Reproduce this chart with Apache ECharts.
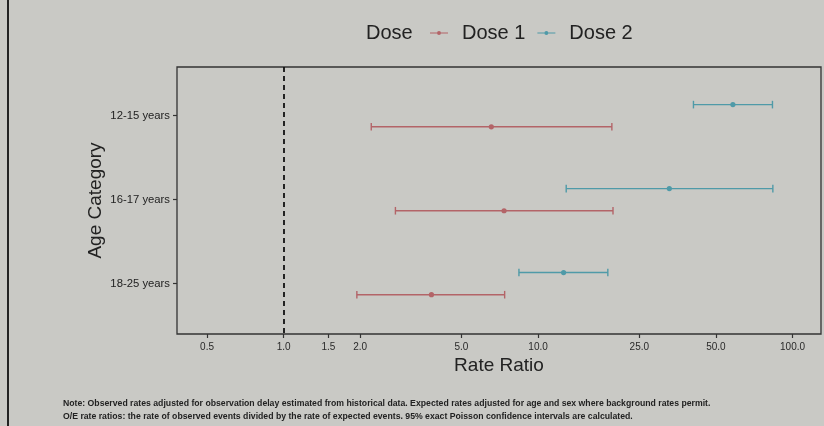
<!DOCTYPE html>
<html>
<head>
<meta charset="utf-8">
<script src="https://cdn.jsdelivr.net/npm/echarts@6/dist/echarts.min.js"></script>
<style>
html,body{margin:0;padding:0;background:#c9c9c5;}
#chart{width:824px;height:426px;}
</style>
</head>
<body>
<div id="chart"></div>
<script>
// ---- data ----
const categories = ['12-15 years', '16-17 years', '18-25 years'];
const dose1Est  = [6.55, 7.35, 3.81];
const dose1Low  = [2.21, 2.75, 1.94];
const dose1High = [19.5, 19.7, 7.39];
const dose2Est  = [58.3, 32.8, 12.6];
const dose2Low  = [40.8, 12.9, 8.41];
const dose2High = [83.4, 83.7, 18.8];
const xTickValues = [0.5, 1.0, 1.5, 2.0, 5.0, 10.0, 25.0, 50.0, 100.0];
const refValue = 1.0;
const noteLines = [
  'Note: Observed rates adjusted for observation delay estimated from historical data. Expected rates adjusted for age and sex where background rates permit.',
  'O/E rate ratios: the rate of observed events divided by the rate of expected events. 95% exact Poisson confidence intervals are calculated.'
];

const lg = v => Math.log10(v);
function build(est, low, high) {
  return categories.map((c, i) => [lg(low[i]), lg(est[i]), lg(high[i]), i]);
}
function makeRender(offset) {
  return function (params, api) {
    const y = api.value(3) + offset;
    const a = api.coord([api.value(0), y]);
    const m = api.coord([api.value(1), y]);
    const b = api.coord([api.value(2), y]);
    const color = api.visual('color');
    const cap = 3.8;
    const st = { stroke: color, lineWidth: 1.4 };
    return {
      type: 'group',
      children: [
        { type: 'line', shape: { x1: a[0], y1: a[1], x2: b[0], y2: b[1] }, style: st },
        { type: 'line', shape: { x1: a[0], y1: a[1] - cap, x2: a[0], y2: a[1] + cap }, style: st },
        { type: 'line', shape: { x1: b[0], y1: b[1] - cap, x2: b[0], y2: b[1] + cap }, style: st },
        { type: 'circle', shape: { cx: m[0], cy: m[1], r: 2.6 }, style: { fill: color } }
      ]
    };
  };
}

const FONT = '"Liberation Sans", Arial, sans-serif';
const legendIcon = 'path://M0,4.4H18V5.6H0Z M11,5A2,2 0 1,1 7,5A2,2 0 1,1 11,5Z';

const chart = echarts.init(document.getElementById('chart'), null, { renderer: 'canvas' });
chart.setOption({
  backgroundColor: '#c9c9c5',
  animation: false,
  textStyle: { fontFamily: FONT },
  title: {
    text: 'Dose', left: 366, top: 23, padding: 0,
    textStyle: { fontSize: 20, fontWeight: 'normal', color: '#222', fontFamily: FONT }
  },
  legend: {
    data: ['Dose 1', 'Dose 2'],
    left: 430, top: 23, padding: 0,
    itemWidth: 18, itemHeight: 12, itemGap: 12,
    icon: legendIcon,
    textStyle: { fontSize: 20, color: '#222', padding: [0, 0, 0, 9], fontFamily: FONT }
  },
  grid: {
    left: 177, right: 3, top: 67, bottom: 92,
    show: true, borderColor: '#333', borderWidth: 1.3, backgroundColor: 'transparent'
  },
  xAxis: {
    type: 'value',
    min: lg(0.381), max: lg(129.4),
    name: 'Rate Ratio', nameLocation: 'middle', nameGap: 22, nameMoveOverlap: false,
    nameTextStyle: { fontSize: 19, color: '#222', fontFamily: FONT },
    axisLine: { show: false, onZero: false },
    splitLine: { show: false },
    axisTick: { show: true, length: 4, lineStyle: { color: '#333', width: 1.2 }, customValues: xTickValues.map(lg) },
    axisLabel: {
      customValues: xTickValues.map(lg), margin: 8,
      fontSize: 10, color: '#2a2a2a', fontFamily: FONT,
      formatter: v => Math.pow(10, v).toFixed(1)
    }
  },
  yAxis: {
    type: 'value', inverse: true,
    min: -0.58, max: 2.6,
    name: 'Age Category', nameLocation: 'middle', nameGap: 72, nameRotate: 90, nameMoveOverlap: false,
    nameTextStyle: { fontSize: 19, color: '#222', fontFamily: FONT },
    axisLine: { show: false, onZero: false },
    splitLine: { show: false },
    axisTick: { show: true, length: 4, lineStyle: { color: '#333', width: 1.2 }, customValues: [0, 1, 2] },
    axisLabel: {
      customValues: [0, 1, 2], margin: 7,
      fontSize: 11.3, color: '#222', fontFamily: FONT,
      formatter: v => categories[Math.round(v)]
    }
  },
  series: [
    {
      name: 'Dose 1', type: 'custom', color: '#b36468',
      renderItem: makeRender(0.132),
      encode: { x: [0, 1, 2], y: 3 },
      data: build(dose1Est, dose1Low, dose1High),
      markLine: {
        silent: true, symbol: 'none', label: { show: false },
        lineStyle: { color: '#111', width: 1.8, type: [5, 4] },
        data: [{ xAxis: lg(refValue) }]
      }
    },
    {
      name: 'Dose 2', type: 'custom', color: '#4f9aa8',
      renderItem: makeRender(-0.132),
      encode: { x: [0, 1, 2], y: 3 },
      data: build(dose2Est, dose2Low, dose2High)
    }
  ],
  graphic: [
    { type: 'line', shape: { x1: 8, y1: 0, x2: 8, y2: 426 }, style: { stroke: '#222', lineWidth: 2 } },
    { type: 'text', left: 63, top: 399, style: { text: noteLines[0], font: 'bold 8.7px "Liberation Sans Narrow", "Liberation Sans", sans-serif', fill: '#222' } },
    { type: 'text', left: 63, top: 412, style: { text: noteLines[1], font: 'bold 8.7px "Liberation Sans Narrow", "Liberation Sans", sans-serif', fill: '#222' } }
  ]
});
</script>
</body>
</html>
